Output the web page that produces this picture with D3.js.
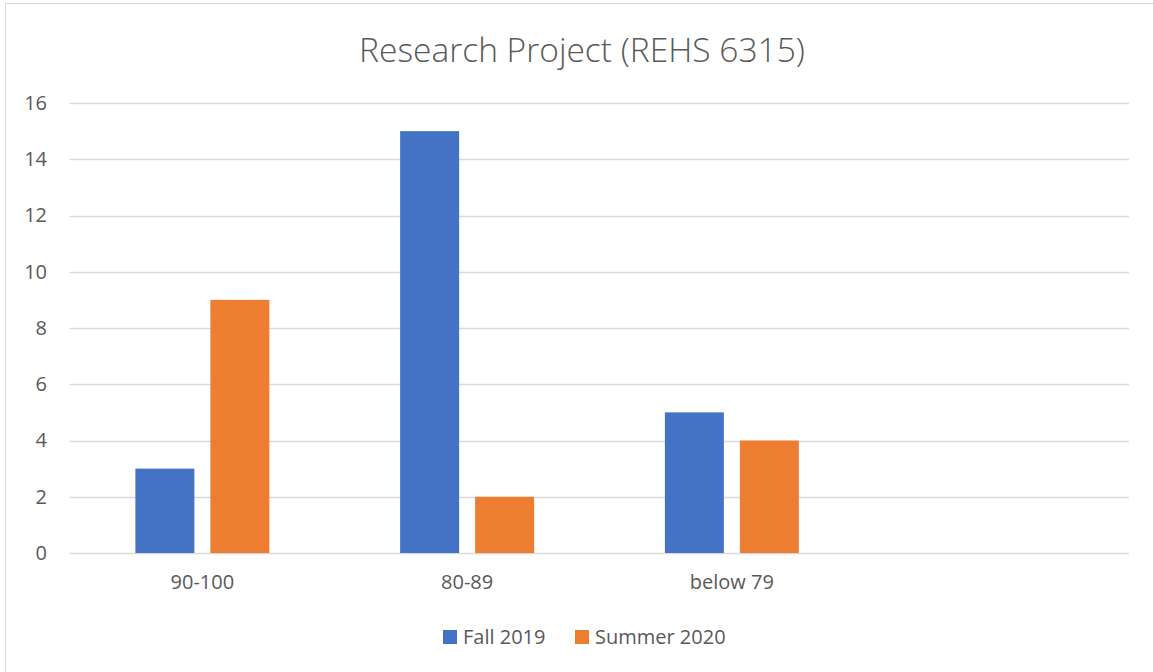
<!DOCTYPE html>
<html><head><meta charset="utf-8">
<script src="https://cdn.jsdelivr.net/npm/d3@7"></script>
<style>body{margin:0;background:#fff;} text{font-family:"Open Sans",sans-serif;fill:#595959;}</style>
</head><body>
<svg id="c" width="1153" height="672"></svg>
<script>
const title = "Research Project (REHS 6315)";
const categories = ["90-100", "80-89", "below 79", ""];
const seriesNames = ["Fall 2019", "Summer 2020"];
const fall2019 = [3, 15, 5, null];
const summer2020 = [9, 2, 4, null];
const yTicks = [0, 2, 4, 6, 8, 10, 12, 14, 16];
const colors = ["#4472C4", "#ED7D31"];

(function () {
const svg = d3.select("#c");
svg.append("rect").attr("x", 5.5).attr("y", 3.5).attr("width", 1160).attr("height", 680)
  .attr("fill", "#fff").attr("stroke", "#d9d9d9").attr("stroke-width", 1);

const pL = 70, pR = 1129, pT = 103, pB = 553;
const y = d3.scaleLinear().domain([0, 16]).range([pB, pT]);
const x0 = d3.scaleBand().domain(categories.map((c, i) => i)).range([pL, pR])
  .paddingInner(0.494).paddingOuter(0.247);
const x1 = d3.scaleBand().domain(seriesNames).range([0, x0.bandwidth()]).paddingInner(0.2133);

svg.append("g").selectAll("line").data(yTicks).join("line")
  .attr("x1", pL).attr("x2", pR)
  .attr("y1", d => Math.round(y(d)) + 0.5).attr("y2", d => Math.round(y(d)) + 0.5)
  .attr("stroke", "#d9d9d9").attr("stroke-width", 1.3);

const fs = "20px";
const yAxis = d3.axisLeft(y).tickValues(yTicks).tickSize(0).tickPadding(0);
const ya = svg.append("g").attr("transform", "translate(47,0)").call(yAxis);
ya.select(".domain").remove();
ya.selectAll("text").style("font-size", fs).attr("fill", "#595959").style("font-family", "'Open Sans',sans-serif");

const data = [fall2019, summer2020];
data.forEach((vals, si) => {
  svg.append("g").selectAll("rect").data(vals.map((v, i) => ({v, i})).filter(d => d.v != null)).join("rect")
    .attr("x", d => x0(d.i) + x1(seriesNames[si]))
    .attr("width", x1.bandwidth())
    .attr("y", d => y(d.v))
    .attr("height", d => y(0) - y(d.v))
    .attr("fill", colors[si]);
});

const xAxis = d3.axisBottom(x0).tickFormat(i => categories[i]).tickSize(0).tickPadding(0);
const xa = svg.append("g").attr("transform", "translate(0,575)").call(xAxis);
xa.select(".domain").remove();
xa.selectAll("text").style("font-size", fs).attr("fill", "#595959").style("font-family", "'Open Sans',sans-serif");

svg.append("text").attr("x", 582).attr("y", 62).attr("text-anchor", "middle")
  .style("font-size", "33.5px").style("font-weight", "300").text(title);

const legendX = [443, 575];
seriesNames.forEach((s, i) => {
  svg.append("rect").attr("x", legendX[i]).attr("y", 630).attr("width", 14).attr("height", 14).attr("fill", colors[i]);
  svg.append("text").attr("x", legendX[i] + 20).attr("y", 644).style("font-size", fs).text(s);
});
})();
</script>
</body></html>
